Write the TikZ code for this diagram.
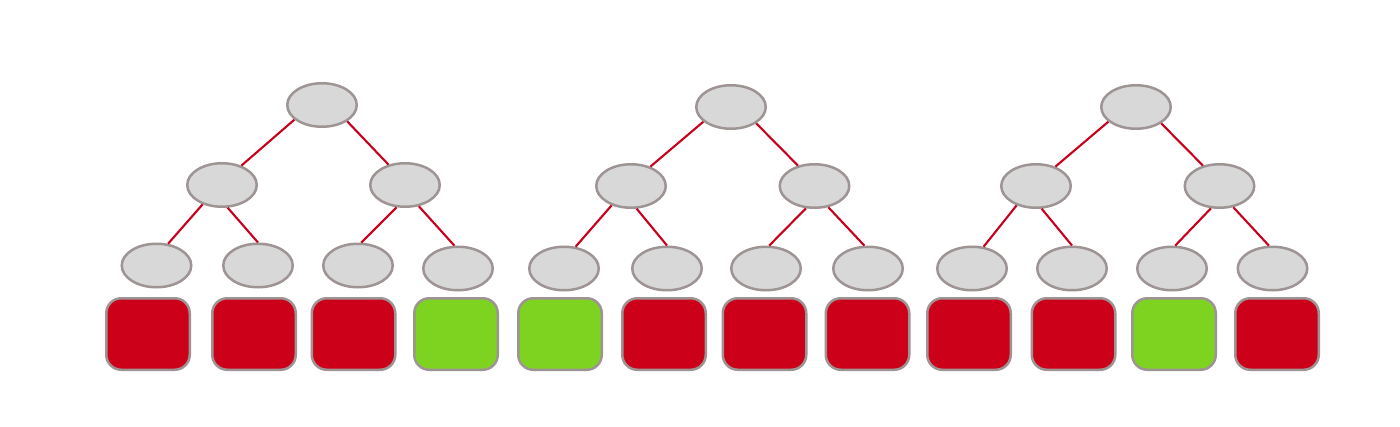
\documentclass[tikz,border=0pt]{standalone}
\usetikzlibrary{shapes.geometric}
\definecolor{nodegray}{HTML}{D8D8D8}
\definecolor{rimgray}{HTML}{9E9494}
\definecolor{redc}{HTML}{CC0019}
\definecolor{greenc}{HTML}{7ED321}
\definecolor{linkred}{HTML}{C8001C}
\begin{document}
\begin{tikzpicture}[x=1pt,y=-1pt,
  oval/.style={ellipse, draw=rimgray, line width=2.5pt, fill=nodegray, minimum width=69.5pt, minimum height=43.5pt, inner sep=0pt},
  box/.style={rounded corners=15pt, draw=rimgray, line width=2.5pt, minimum width=83.5pt, minimum height=71.5pt, inner sep=0pt},
  redbox/.style={box, fill=redc},
  greenbox/.style={box, fill=greenc},
  link/.style={draw=linkred, line width=2.1pt}]
\useasboundingbox (0,0) rectangle (1400,426);
% ---------- tree 1 ----------
\node[oval] (r1) at (322,105) {};
\node[oval] (a1) at (222,185) {};
\node[oval] (b1) at (405,185) {};
\node[oval] (l11) at (156.5,265.5) {};
\node[oval] (l12) at (258,265.5) {};
\node[oval] (l13) at (358,265.5) {};
\node[oval] (l14) at (458,268.5) {};
\node[redbox] (s11) at (148,334) {};
\node[redbox] (s12) at (254,334) {};
\node[redbox] (s13) at (353.5,334) {};
\node[greenbox] (s14) at (456,334) {};
% ---------- tree 2 ----------
\node[oval] (r2) at (731,107) {};
\node[oval] (a2) at (631,186) {};
\node[oval] (b2) at (814.5,186) {};
\node[oval] (l21) at (564,268.5) {};
\node[oval] (l22) at (667,268.5) {};
\node[oval] (l23) at (766,268.5) {};
\node[oval] (l24) at (868,268.5) {};
\node[greenbox] (s21) at (560,334) {};
\node[redbox] (s22) at (664,334) {};
\node[redbox] (s23) at (764.5,334) {};
\node[redbox] (s24) at (867.5,334) {};
% ---------- tree 3 ----------
\node[oval] (r3) at (1136,107) {};
\node[oval] (a3) at (1036,186) {};
\node[oval] (b3) at (1219.5,186) {};
\node[oval] (l31) at (972,268.5) {};
\node[oval] (l32) at (1072,268.5) {};
\node[oval] (l33) at (1172,268.5) {};
\node[oval] (l34) at (1272.5,268.5) {};
\node[redbox] (s31) at (969,334) {};
\node[redbox] (s32) at (1073.5,334) {};
\node[greenbox] (s33) at (1174,334) {};
\node[redbox] (s34) at (1277,334) {};
% ---------- links ----------
\foreach \t in {1,2,3}{
  \draw[link] (r\t.208) -- (a\t.45);
  \draw[link] (r\t.-33) -- (b\t.129);
  \draw[link] (a\t.225) -- (l\t1.62);
  \draw[link] (a\t.-76) -- (l\t2.90);
  \draw[link] (b\t.249) -- (l\t3.82);
  \draw[link] (b\t.-57) -- (l\t4.99);
}
\end{tikzpicture}
\end{document}
